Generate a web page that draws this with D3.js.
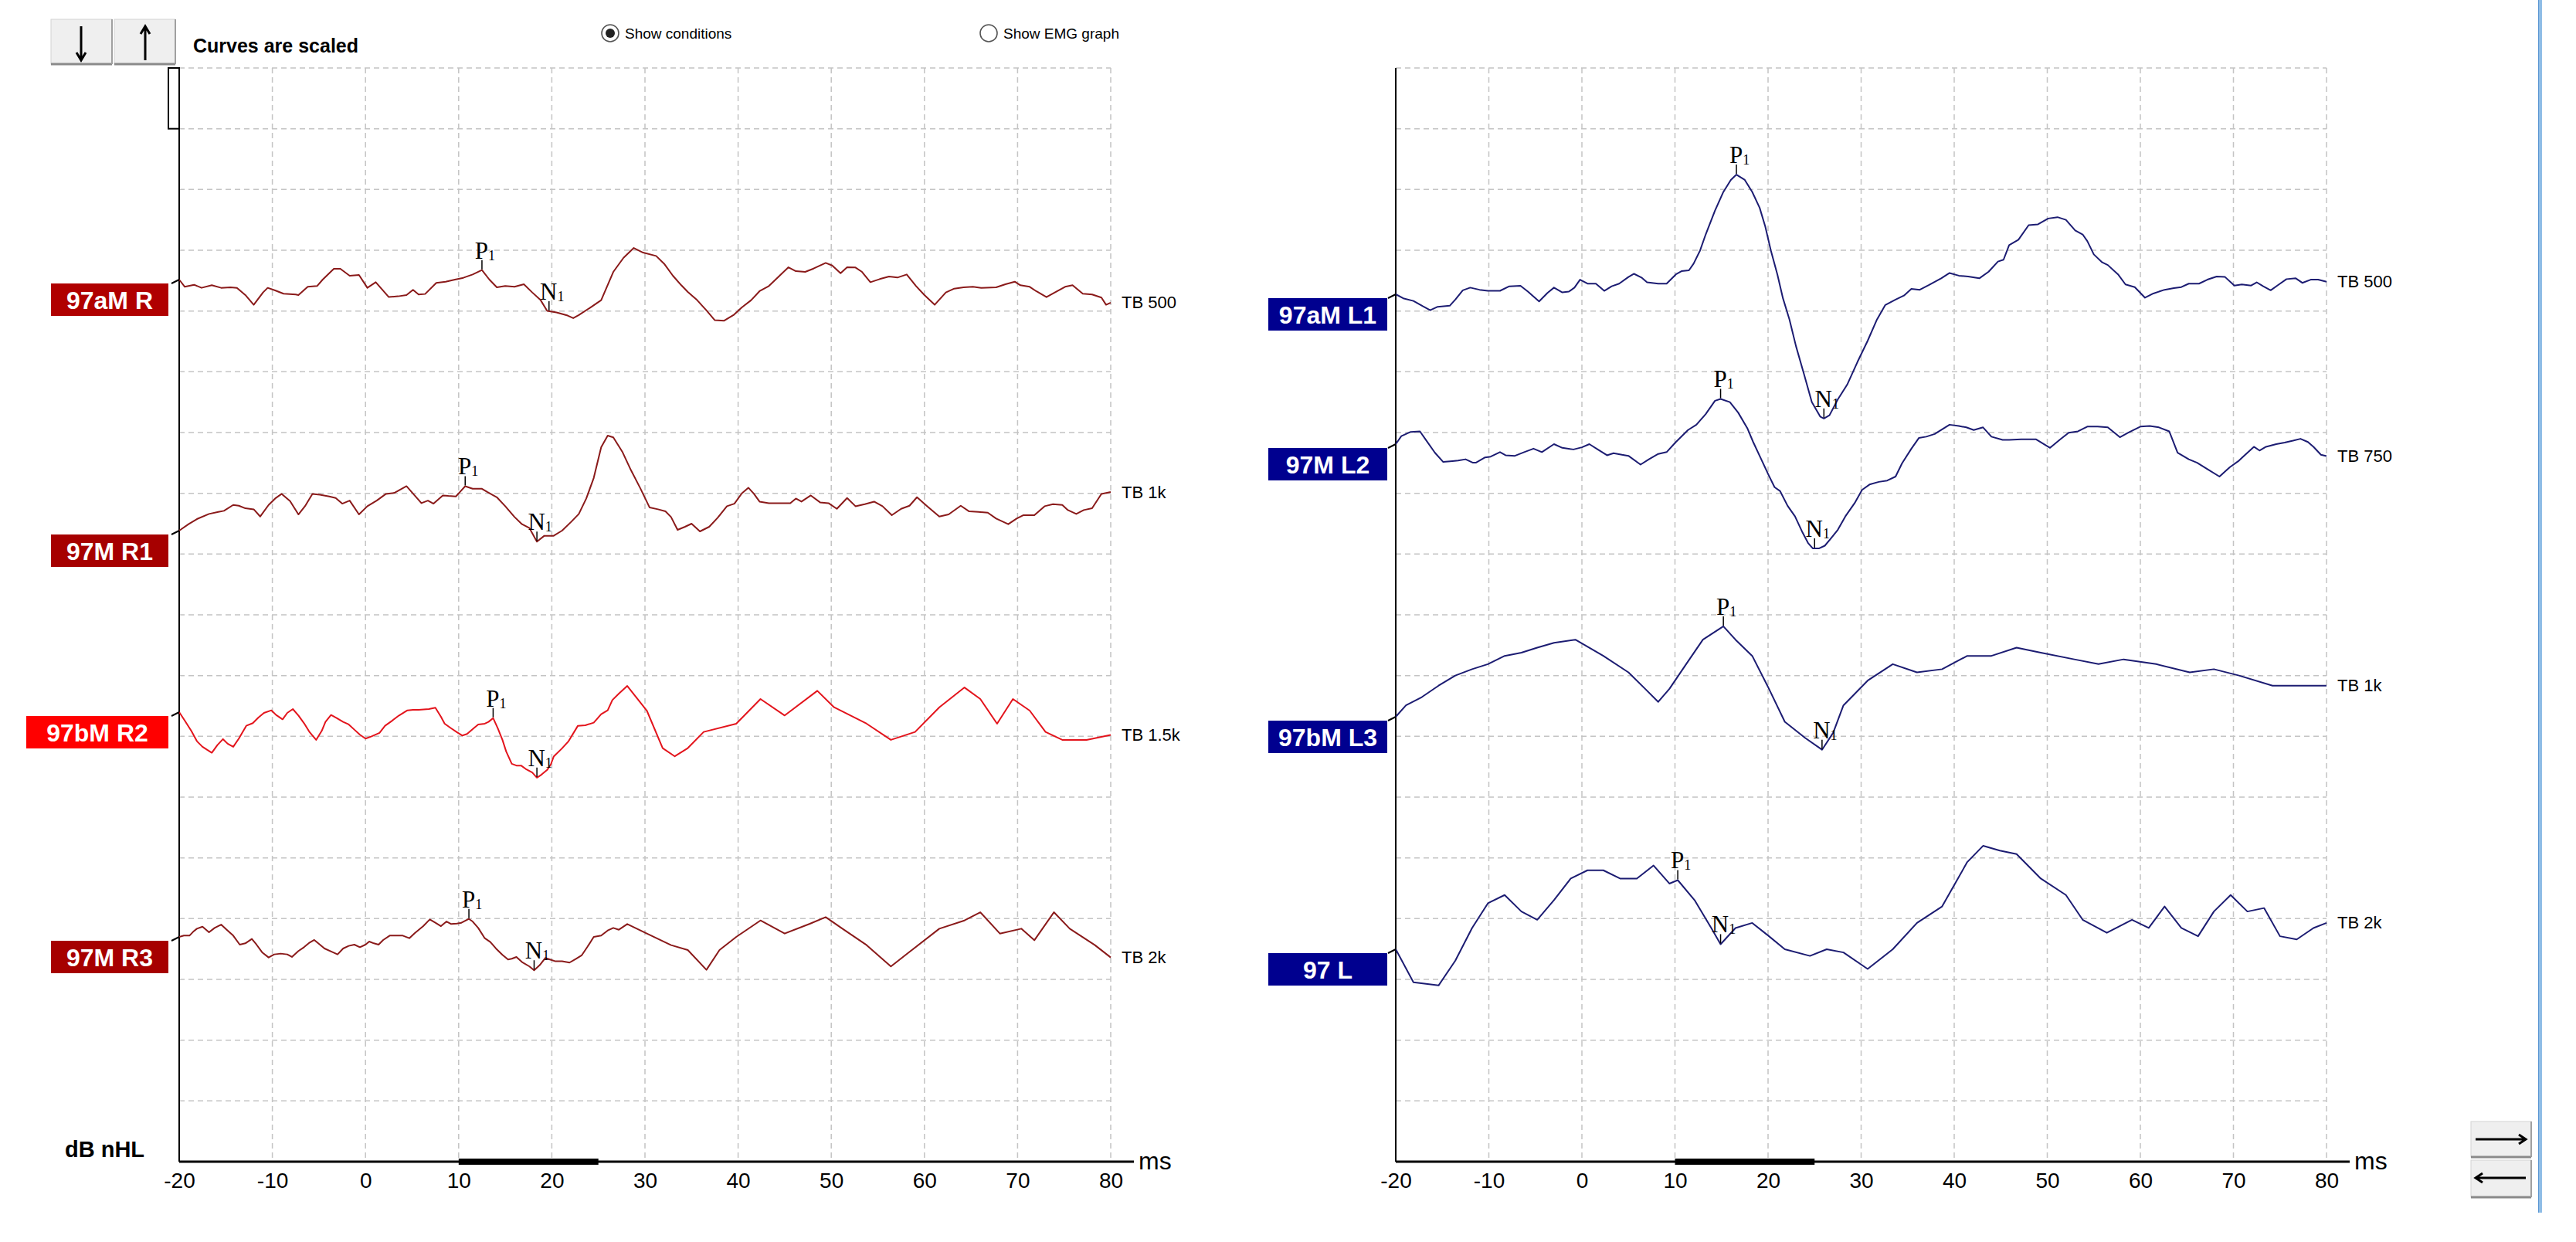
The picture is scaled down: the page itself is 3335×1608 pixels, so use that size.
<!DOCTYPE html>
<html><head><meta charset="utf-8">
<script src="https://cdn.jsdelivr.net/npm/d3@7"></script>
<style>
body{margin:0;background:#fff;}
svg{display:block;font-family:"Liberation Sans",Arial,sans-serif;}
</style>
</head><body>
<script>
// ---------------- DATA ----------------
const timeDomain = [-20, 80];
const xTicks = [-20,-10,0,10,20,30,40,50,60,70,80];
const stimBar = [10, 25];

const leftLabels = ["97aM R","97M R1","97bM R2","97M R3"];
const leftStimuli = ["TB 500","TB 1k","TB 1.5k","TB 2k"];
const rightLabels = ["97aM L1","97M L2","97bM L3","97 L"];
const rightStimuli = ["TB 500","TB 750","TB 1k","TB 2k"];

// peak latencies (ms)
const leftP1 = [12.5, 10.7, 13.7, 11.1];
const leftN1 = [19.7, 18.4, 18.4, 18.1];
const rightP1 = [16.6, 14.9, 15.2, 10.3];
const rightN1 = [26.0, 25.0, 25.8, 14.9];

// traces: [latency ms, amplitude]
const r0 = [[-20,0],[-19.4,-2.8],[-18.4,-2.0],[-17.6,-3.2],[-16.5,-2.2],[-15.5,-3.2],[-14.5,-3.0],[-13.8,-3.2],[-12.9,-6.0],[-12.0,-9.8],[-11.0,-5.0],[-10.5,-3.2],[-9.7,-4.2],[-8.8,-5.5],[-7.5,-5.8],[-7.2,-6.0],[-6.2,-2.8],[-5.2,-2.5],[-4.6,0],[-3.4,4.2],[-2.7,4.2],[-1.7,1.5],[-0.7,1.8],[0.2,-3.2],[1.1,-1.0],[2.5,-6.8],[3.5,-6.5],[4.4,-6.0],[5.1,-4.0],[5.7,-5.8],[6.4,-5.6],[7.6,-1.3],[8.6,-0.8],[9.6,0],[10.5,0.7],[11.5,2.0],[12.5,3.7],[13.3,0],[14.1,-3.0],[15.0,-2.5],[16.0,-2.8],[17.0,-1.8],[17.9,-5.0],[18.8,-8.0],[19.5,-12.2],[20.5,-12.8],[21.7,-14.0],[22.3,-15.0],[22.9,-13.8],[24.3,-10.5],[25.3,-8.0],[26.6,3.0],[27.7,8.5],[28.8,12.3],[29.8,10.5],[31.2,9.2],[32.1,6.0],[33.0,1.5],[33.9,-2.2],[34.6,-4.8],[35.6,-8.0],[36.6,-12.0],[37.5,-15.8],[38.5,-16.0],[39.5,-13.8],[40.4,-10.8],[41.4,-8.0],[42.3,-4.5],[43.3,-2.5],[44.3,1.0],[45.4,4.8],[46.2,3.3],[47.2,3.0],[48.1,4.3],[49.4,6.5],[50.1,5.5],[51.0,2.5],[51.7,4.8],[52.6,4.7],[53.3,3.0],[54.2,-1.0],[55.2,0.2],[56.2,1.2],[57.1,0.8],[58.1,2.0],[59.1,-2.5],[60.0,-6.0],[61.1,-9.8],[62.3,-5.0],[63.2,-3.5],[64.2,-3.0],[65.2,-2.8],[66.1,-3.2],[67.7,-3.0],[68.7,-1.8],[69.7,-0.8],[70.3,-2.2],[71.3,-2.8],[72.0,-4.5],[73.1,-6.8],[74.0,-5.0],[75.1,-2.8],[75.9,-2.2],[77.0,-5.5],[78.0,-5.8],[79.0,-7.0],[79.5,-9.8],[80,-9.0]];
const r1 = [[-20,0],[-19.0,2.5],[-18.1,4.5],[-16.8,6.5],[-15.8,7.3],[-15.2,7.7],[-14.2,10.0],[-13.6,9.7],[-12.9,8.7],[-12.0,8.3],[-11.3,5.5],[-10.4,10.0],[-9.7,12.5],[-9.0,14.3],[-8.1,11.5],[-7.2,6.3],[-6.5,9.5],[-5.7,14.3],[-4.9,14.0],[-3.9,13.3],[-3.2,12.7],[-2.5,10.5],[-1.7,11.7],[-0.7,6.3],[0.2,9.5],[1.2,11.7],[2.2,14.3],[3.1,14.7],[4.4,17.3],[5.2,14.0],[6.0,10.7],[6.7,11.7],[7.3,10.5],[8.3,13.7],[8.9,13.5],[9.7,13.3],[10.2,15.3],[10.7,17.3],[11.5,16.3],[12.5,16.3],[13.1,15.0],[14.1,13.0],[15.0,9.5],[16.0,5.3],[16.8,2.5],[17.6,1.0],[18.4,-4.3],[19.2,-2.0],[20.2,-2.0],[21.1,0],[22.1,3.5],[22.9,6.5],[23.7,12.5],[24.5,20.5],[25.3,32.5],[26.0,37.0],[26.6,36.3],[27.6,30.5],[28.5,23.5],[29.5,16.5],[30.5,9.0],[31.4,8.3],[32.2,7.5],[32.8,5.3],[33.5,0.3],[34.3,1.5],[35.0,2.7],[35.9,-0.3],[36.9,1.5],[37.8,5.0],[38.8,9.5],[39.6,10.5],[40.4,14.5],[41.1,16.7],[41.7,14.3],[42.3,11.3],[43.3,10.7],[44.3,10.7],[45.6,10.7],[46.2,12.5],[46.8,11.3],[47.8,13.7],[48.8,11.0],[49.7,10.7],[50.6,8.5],[51.7,12.7],[52.6,9.5],[53.6,10.3],[54.6,11.3],[55.5,9.5],[56.5,6.0],[57.5,8.5],[58.4,9.7],[59.2,13.0],[60.3,9.5],[61.6,5.5],[62.6,6.3],[63.9,9.7],[64.8,7.5],[65.8,7.3],[66.8,7.0],[67.7,4.7],[69.0,2.5],[69.9,4.7],[70.6,6.0],[71.8,6.0],[72.9,9.5],[73.8,10.3],[74.8,10.0],[75.4,8.0],[76.3,6.5],[77.1,8.0],[78.0,8.7],[79.0,14.3],[80,15.0]];
const r2 = [[-20,0],[-19.4,-3.3],[-18.7,-7.3],[-18.1,-11.3],[-17.5,-13.5],[-16.5,-15.8],[-15.9,-12.8],[-15.3,-10.5],[-14.8,-12.3],[-14.2,-13.5],[-13.6,-10.3],[-12.8,-5.3],[-12.1,-4.3],[-11.5,-2.1],[-10.9,-0.3],[-10.1,0.7],[-9.6,-1.1],[-8.9,-2.8],[-8.4,-0.3],[-7.8,1.2],[-7.2,-1.3],[-6.6,-4.3],[-6.0,-7.8],[-5.3,-10.8],[-4.7,-7.3],[-4.3,-3.8],[-3.7,-1.1],[-3.1,-2.3],[-2.4,-3.8],[-1.8,-4.8],[-1.2,-6.8],[-0.6,-8.8],[0,-10.3],[0.6,-9.5],[1.5,-8.1],[2.1,-5.3],[2.8,-3.5],[3.6,-1.3],[4.5,0.7],[5.1,0.9],[5.7,0.9],[6.8,1.2],[7.5,1.7],[8.1,-1.8],[8.5,-4.5],[9.2,-6.3],[9.8,-7.8],[10.4,-9.1],[10.9,-8.5],[11.6,-6.3],[12.1,-4.8],[12.8,-4.5],[13.2,-3.8],[13.7,-2.3],[14.2,-6.3],[14.7,-10.8],[15.1,-15.3],[15.7,-20.1],[16.2,-20.8],[16.7,-20.8],[17.2,-22.1],[17.9,-23.5],[18.4,-25.5],[18.9,-24.3],[19.5,-22.5],[19.9,-20.3],[20.2,-17.3],[21.1,-14.1],[21.8,-11.3],[22.8,-5.3],[23.6,-5.1],[24.5,-4.1],[25.3,-0.8],[26.0,0.7],[26.5,4.7],[27.2,7.2],[28.1,10.2],[30.2,0.6],[31.9,-14.0],[33.2,-17.2],[34.6,-14.0],[36.3,-7.7],[39.8,-4.5],[42.4,5.1],[45.0,-1.3],[48.5,8.3],[50.3,1.9],[53.8,-4.5],[56.4,-10.8],[59.0,-7.7],[61.6,1.9],[64.3,9.6],[66.0,5.1],[67.8,-4.5],[69.5,5.1],[71.3,0.6],[73.0,-7.7],[74.8,-10.8],[77.4,-10.8],[80,-8.9]];
const r3 = [[-20,0],[-19.5,0.5],[-18.9,0.5],[-18.5,2.0],[-18.1,3.2],[-17.5,4.0],[-16.8,1.8],[-16.2,3.5],[-15.5,4.8],[-14.9,2.8],[-14.2,0.5],[-13.5,-3.0],[-12.9,-2.5],[-12.2,-0.8],[-11.7,-3.0],[-11.1,-6.0],[-10.4,-8.0],[-9.8,-6.8],[-9.1,-6.5],[-8.4,-6.8],[-7.9,-7.8],[-7.2,-5.5],[-6.6,-4.0],[-6.0,-2.2],[-5.5,-1.2],[-4.9,-3.0],[-4.4,-4.5],[-3.6,-5.8],[-3.0,-6.8],[-2.4,-4.5],[-1.8,-3.5],[-1.2,-3.0],[-0.6,-4.0],[0,-3.0],[0.4,-1.8],[0.9,-2.5],[1.4,-3.0],[1.9,-1.2],[2.6,0.5],[3.2,0.5],[4.0,0.5],[4.7,-0.5],[5.3,1.5],[6.2,4.2],[6.9,6.8],[7.5,5.5],[8.1,4.2],[8.7,6.0],[9.2,5.0],[9.8,5.2],[10.3,5.5],[11.1,7.0],[11.5,6.0],[12.1,3.5],[12.8,-0.5],[13.4,-2.0],[14.0,-4.5],[14.7,-7.0],[15.3,-8.8],[15.7,-8.5],[16.2,-7.8],[16.8,-9.8],[17.6,-11.5],[18.1,-13.0],[18.7,-11.0],[19.3,-8.2],[19.8,-8.8],[20.4,-9.5],[21.1,-9.5],[21.9,-10.0],[22.6,-8.5],[23.2,-7.2],[23.8,-4.0],[24.5,0],[25.3,0.5],[26.0,2.5],[26.6,3.5],[27.2,2.8],[28.1,5.0],[30.2,1.3],[32.8,-3.2],[34.6,-5.1],[36.6,-12.8],[38.0,-5.1],[39.8,0],[42.4,6.4],[45.0,1.3],[47.7,5.1],[49.4,7.7],[51.2,3.2],[53.8,-3.2],[56.4,-11.5],[58.2,-6.4],[61.6,3.2],[64.3,6.4],[66.0,9.6],[68.1,1.3],[70.4,3.2],[71.8,-1.3],[73.9,9.6],[75.6,3.2],[78.3,-3.2],[80,-8.0]];

const l0 = [[-20,0],[-19.2,-1.5],[-18.1,-2.5],[-17.1,-4.5],[-16.3,-6.0],[-15.5,-4.7],[-14.2,-4.3],[-13.6,-2.0],[-12.8,1.5],[-12.0,2.5],[-11.0,1.7],[-10.1,1.3],[-8.8,1.3],[-7.8,3.0],[-6.6,3.2],[-5.8,1.0],[-4.6,-2.7],[-3.7,0.5],[-3.0,2.5],[-2.1,0.7],[-1.4,1.0],[-0.8,2.5],[-0.2,5.5],[0.6,4.0],[1.5,4.0],[2.4,1.3],[3.2,3.0],[4.0,4.0],[5.0,6.5],[5.6,7.7],[6.4,6.3],[7.0,4.5],[8.2,4.0],[9.1,4.0],[10.1,7.5],[10.7,8.7],[11.5,9.0],[12.0,11.5],[12.7,16.5],[13.3,22.5],[14.3,31.5],[15.2,38.5],[16.0,43.0],[16.6,45.0],[17.5,43.0],[18.3,38.5],[19.1,32.5],[19.7,25.5],[20.3,16.5],[21.0,7.5],[21.6,-1.5],[22.3,-9.5],[23.0,-19.5],[23.9,-30.5],[24.7,-40.5],[25.6,-46.0],[26.0,-46.7],[26.6,-45.5],[27.5,-39.5],[28.5,-34.0],[29.6,-25.5],[30.7,-17.5],[31.7,-9.5],[32.6,-4.0],[33.7,-2.0],[34.6,-0.5],[35.4,2.0],[36.3,1.7],[37.3,3.5],[38.6,6.0],[39.5,8.0],[40.5,7.0],[41.5,6.7],[42.7,6.0],[43.7,8.5],[44.7,12.3],[45.3,13.0],[45.9,18.5],[46.9,20.5],[48.0,26.0],[49.0,26.3],[50.1,28.5],[51.1,29.0],[52.0,28.0],[53.0,24.0],[53.8,22.5],[54.3,20.0],[55.0,15.0],[55.9,12.0],[56.5,11.0],[57.6,7.5],[58.4,3.7],[59.4,2.7],[60.5,-1.3],[61.4,0.3],[62.6,1.7],[63.6,2.3],[64.4,2.7],[65.2,4.0],[66.3,4.0],[67.2,5.5],[68.2,6.7],[69.1,6.5],[70.1,3.3],[70.9,3.7],[71.9,3.3],[72.5,4.5],[73.2,3.0],[74.0,1.5],[74.8,3.5],[75.7,5.7],[76.7,6.0],[77.4,4.3],[78.3,5.5],[79.1,5.5],[80,4.7]];
const l1 = [[-20,0],[-19.4,3.0],[-18.4,4.6],[-17.4,4.8],[-16.8,1.8],[-15.8,-3.2],[-14.9,-6.7],[-13.9,-6.4],[-13.3,-6.2],[-12.5,-5.7],[-11.7,-7.0],[-11.4,-7.0],[-10.4,-5.0],[-9.8,-4.7],[-8.8,-3.0],[-8.2,-4.2],[-7.2,-4.4],[-6.2,-3.0],[-5.2,-1.7],[-4.3,-3.0],[-3.0,0],[-2.1,-1.4],[-0.9,-2.0],[0,-1.2],[0.8,0],[1.8,-2.2],[2.7,-4.2],[3.4,-3.4],[4.3,-4.0],[5.0,-4.4],[6.3,-7.7],[7.2,-5.7],[8.2,-3.7],[9.1,-3.0],[10.1,0.8],[11.4,5.3],[12.3,7.3],[13.3,11.3],[14.3,16.3],[14.9,17.0],[15.9,15.8],[16.8,11.8],[17.8,5.8],[18.4,0.8],[19.2,-5.2],[20.0,-11.2],[20.7,-16.2],[21.3,-17.7],[22.1,-23.2],[22.9,-27.2],[23.7,-33.2],[24.3,-37.2],[24.8,-39.2],[25.5,-39.2],[26.1,-38.2],[26.7,-35.7],[27.5,-32.2],[28.3,-27.2],[29.3,-22.2],[30.1,-17.2],[30.9,-15.2],[31.9,-14.2],[32.8,-13.7],[33.7,-12.2],[34.4,-7.2],[35.4,-1.7],[36.2,2.3],[37.0,2.8],[37.9,3.8],[38.8,5.8],[39.5,7.3],[40.5,6.8],[41.3,6.3],[42.1,5.3],[43.1,6.3],[44.0,2.8],[45.2,1.6],[45.9,1.6],[47.2,1.8],[48.8,1.8],[50.3,-1.4],[51.4,1.8],[52.3,4.3],[53.3,4.8],[54.3,6.6],[55.4,6.6],[56.5,6.3],[57.8,2.6],[58.7,4.3],[60.0,6.6],[61.0,6.8],[62.0,6.3],[63.1,4.8],[64.0,-3.2],[65.2,-5.7],[66.1,-7.0],[67.2,-9.4],[68.5,-12.2],[69.6,-8.7],[70.6,-6.2],[71.2,-4.2],[72.2,-1.0],[72.8,-2.4],[73.5,-1.0],[74.6,0],[75.5,0.6],[76.4,1.3],[77.2,2.0],[78.0,0.8],[78.6,-1.0],[79.4,-4.0],[80,-4.5]];
const l2 = [[-20,0],[-18.9,4.3],[-17.2,7.4],[-15.4,11.7],[-13.6,15.5],[-11.8,17.9],[-10.1,19.8],[-8.3,22.9],[-6.5,24.1],[-4.8,26.0],[-3.0,27.8],[-0.7,29.0],[2.3,22.9],[5.0,16.7],[6.8,10.5],[8.2,5.6],[9.4,10.5],[11.2,19.8],[13.0,29.0],[15.2,34.0],[16.5,29.0],[18.3,22.9],[20.1,10.5],[21.8,-1.9],[24.0,-8.0],[25.8,-12.4],[27.0,-6.0],[28.1,4.3],[30.7,13.6],[33.4,19.8],[36.0,16.7],[38.7,17.9],[41.4,22.9],[44.0,22.9],[46.7,26.0],[49.3,24.1],[52.9,21.6],[55.5,19.8],[58.2,21.6],[61.7,19.8],[65.3,16.7],[67.9,17.9],[70.6,15.5],[74.2,11.7],[76.8,11.7],[80,11.7]];
const l3 = [[-20,0],[-18.1,-12.4],[-15.4,-13.6],[-13.6,-4.3],[-11.8,8.0],[-10.1,17.3],[-8.3,20.4],[-6.5,14.2],[-4.8,11.1],[-3.0,18.5],[-1.2,26.6],[0.6,29.7],[2.3,29.7],[4.1,26.6],[5.9,26.6],[7.7,31.5],[9.4,24.7],[10.3,26.0],[12.1,18.5],[13.9,8.0],[14.9,1.9],[16.5,8.0],[18.3,9.9],[20.1,4.9],[21.8,0],[24.5,-2.5],[26.3,0],[28.1,-1.2],[30.7,-7.4],[33.4,0],[36.0,9.9],[38.7,16.1],[41.4,32.8],[43.1,38.9],[44.9,37.1],[46.7,35.8],[49.3,26.6],[52.0,20.4],[53.8,11.1],[56.4,6.2],[59.1,11.1],[60.9,8.0],[62.6,16.1],[64.4,8.0],[66.2,4.9],[67.9,14.2],[69.7,20.4],[71.5,14.2],[73.3,15.5],[75.0,4.9],[76.8,3.7],[78.6,8.0],[80,9.9]];

// ---------------- LAYOUT ----------------
const W = 3335, H = 1608;
const svg = d3.select("body").append("svg").attr("width", W).attr("height", H);
const gridTop = 88, axisY = 1504, nRows = 18;
const rowH = (axisY - gridTop) / nRows;
const serif = '"Liberation Serif","Times New Roman",Times,serif';

const panels = [
  { x0: 232, x1: 1438, unitsPerDiv: 23.65, labels: leftLabels, stimuli: leftStimuli,
    traces: [r0, r1, r2, r3], p1: leftP1, n1: leftN1, base: [362, 687, 922, 1213],
    lineColors: ["#8a1a1a","#8a1a1a","#e3141c","#8a1a1a"],
    boxColors: ["#b00000","#a60000","#ff0000","#a60000"], boxW: [152,152,184,152], boxGap: 14, scrollBox: true },
  { x0: 1807, x1: 3012, unitsPerDiv: 22.85, labels: rightLabels, stimuli: rightStimuli,
    traces: [l0, l1, l2, l3], p1: rightP1, n1: rightN1, base: [381, 575, 928, 1229],
    lineColors: ["#1c1c72","#1c1c72","#1c1c72","#1c1c72"],
    boxColors: ["#00008f","#00008f","#00008f","#00008f"], boxW: [154,154,154,154], boxGap: 11, scrollBox: false }
];

function valueAt(tr, t) {
  for (let i = 1; i < tr.length; i++) {
    if (tr[i][0] >= t) {
      const a = tr[i-1], b = tr[i];
      const f = (t - a[0]) / (b[0] - a[0]);
      return a[1] + f * (b[1] - a[1]);
    }
  }
  return tr[tr.length-1][1];
}

panels.forEach(p => {
  const x = d3.scaleLinear().domain(timeDomain).range([p.x0, p.x1]);
  const g = svg.append("g");

  // grid
  const grid = g.append("g").attr("stroke", "#c4c4c4").attr("stroke-width", 1.5).attr("stroke-dasharray", "7,5");
  grid.selectAll("line.h").data(d3.range(nRows)).join("line")
    .attr("x1", p.x0).attr("x2", p.x1)
    .attr("y1", i => gridTop + i * rowH).attr("y2", i => gridTop + i * rowH);
  grid.selectAll("line.v").data(xTicks.filter(t => t > timeDomain[0])).join("line")
    .attr("x1", d => x(d)).attr("x2", d => x(d)).attr("y1", gridTop).attr("y2", axisY);

  // axis tick labels via d3 axis
  const ax = g.append("g").attr("transform", `translate(0,${axisY})`)
    .call(d3.axisBottom(x).tickValues(xTicks).tickSize(0).tickPadding(14).tickFormat(d => String(d)));
  ax.select(".domain").remove();
  ax.attr("font-family", null).attr("font-size", null);
  ax.selectAll("text").style("font-size", "28px").attr("fill", "#000")
    .style("font-family", '"Liberation Sans",Arial,sans-serif');

  // axes lines
  g.append("line").attr("x1", p.x0).attr("x2", p.x0).attr("y1", gridTop).attr("y2", axisY)
    .attr("stroke", "#000").attr("stroke-width", 2);
  g.append("line").attr("x1", p.x0).attr("x2", p.x1 + 30).attr("y1", axisY).attr("y2", axisY)
    .attr("stroke", "#000").attr("stroke-width", 3);
  g.append("rect").attr("x", x(stimBar[0])).attr("width", x(stimBar[1]) - x(stimBar[0]))
    .attr("y", axisY - 4).attr("height", 8).attr("fill", "#000");
  g.append("text").attr("x", p.x1 + 36).attr("y", axisY + 10).style("font-size", "32px").text("ms");

  if (p.scrollBox) {
    g.append("rect").attr("x", p.x0 - 14).attr("y", gridTop).attr("width", 14).attr("height", rowH)
      .attr("fill", "#fff").attr("stroke", "#000").attr("stroke-width", 2);
  }

  p.traces.forEach((tr, i) => {
    const base = p.base[i];
    const y = d3.scaleLinear().domain([0, p.unitsPerDiv]).range([base, base - rowH]);
    const line = d3.line().x(d => x(d[0])).y(d => y(d[1]));
    g.append("path").datum(tr).attr("d", line).attr("fill", "none")
      .attr("stroke", p.lineColors[i]).attr("stroke-width", 2).attr("stroke-linejoin", "round");

    // start tick
    g.append("line").attr("x1", p.x0 - 10).attr("y1", base + 5).attr("x2", p.x0).attr("y2", base)
      .attr("stroke", "#000").attr("stroke-width", 2);

    // condition label box
    const bw = p.boxW[i], bx = p.x0 - p.boxGap - bw, by = base + 5;
    g.append("rect").attr("x", bx).attr("y", by).attr("width", bw).attr("height", 42).attr("fill", p.boxColors[i]);
    g.append("text").attr("x", bx + bw / 2).attr("y", by + 22).attr("text-anchor", "middle")
      .attr("dominant-baseline", "central").style("font-size", "32px").style("font-weight", "bold")
      .attr("fill", "#fff").text(p.labels[i]);

    // stimulus label at trace end
    const last = tr[tr.length - 1];
    g.append("text").attr("x", p.x1 + 14).attr("y", y(last[1])).attr("dominant-baseline", "central")
      .style("font-size", "22px").attr("fill", "#000").text(p.stimuli[i]);

    // peak markers
    [["P", p.p1[i]], ["N", p.n1[i]]].forEach(([lab, t]) => {
      const px = x(t), py = y(valueAt(tr, t));
      g.append("line").attr("x1", px).attr("x2", px).attr("y1", py - 1).attr("y2", py - 13)
        .attr("stroke", "#000").attr("stroke-width", 1.5);
      const tx = g.append("text").attr("x", px + 4).attr("y", py - 15).attr("text-anchor", "middle")
        .style("font-family", serif).style("font-size", "31px").attr("fill", "#000");
      tx.append("tspan").text(lab);
      tx.append("tspan").style("font-size", "18px").attr("dy", 2).text("1");
    });
  });
});

// dB nHL
svg.append("text").attr("x", 84).attr("y", 1498).style("font-size", "29px").style("font-weight", "bold").text("dB nHL");
// header text
svg.append("text").attr("x", 250).attr("y", 68).style("font-size", "25px").style("font-weight", "bold").text("Curves are scaled");

// radio buttons
const radios = [{cx: 790, label: "Show conditions", on: true}, {cx: 1280, label: "Show EMG graph", on: false}];
radios.forEach(r => {
  svg.append("circle").attr("cx", r.cx).attr("cy", 43).attr("r", 11).attr("fill", "#fff")
    .attr("stroke", "#555").attr("stroke-width", 1.6);
  if (r.on) svg.append("circle").attr("cx", r.cx).attr("cy", 43).attr("r", 6).attr("fill", "#222");
  svg.append("text").attr("x", r.cx + 19).attr("y", 50).style("font-size", "19px").attr("fill", "#000").text(r.label);
});

// buttons
function button(x, y, w, h) {
  svg.append("rect").attr("x", x).attr("y", y).attr("width", w).attr("height", h)
    .attr("fill", "#efefef").attr("stroke", "#d4d4d4").attr("stroke-width", 1);
  svg.append("line").attr("x1", x).attr("x2", x + w).attr("y1", y + h).attr("y2", y + h)
    .attr("stroke", "#8a8a8a").attr("stroke-width", 3);
  svg.append("line").attr("x1", x + w).attr("x2", x + w).attr("y1", y).attr("y2", y + h)
    .attr("stroke", "#a0a0a0").attr("stroke-width", 2);
}
button(66, 25, 79, 58);
button(148, 25, 79, 58);
const arrowStyle = s => s.attr("fill", "none").attr("stroke", "#000").attr("stroke-width", 3);
arrowStyle(svg.append("path").attr("d", "M105,34 L105,78 M99,68 L105,78 L111,68"));
arrowStyle(svg.append("path").attr("d", "M188,78 L188,34 M182,44 L188,34 L194,44"));

button(3199, 1452, 78, 46);
button(3199, 1502, 78, 48);
arrowStyle(svg.append("path").attr("d", "M3205,1475 L3270,1475 M3261,1469 L3270,1475 L3261,1481"));
arrowStyle(svg.append("path").attr("d", "M3270,1525 L3205,1525 M3214,1519 L3205,1525 L3214,1531"));

// right edge blue bar
svg.append("rect").attr("x", 3286).attr("y", 0).attr("width", 5).attr("height", 1570).attr("fill", "#8fbde6");
svg.append("line").attr("x1", 3286.5).attr("x2", 3286.5).attr("y1", 0).attr("y2", 1570).attr("stroke", "#5a96d2").attr("stroke-width", 1);
</script>
</body></html>
